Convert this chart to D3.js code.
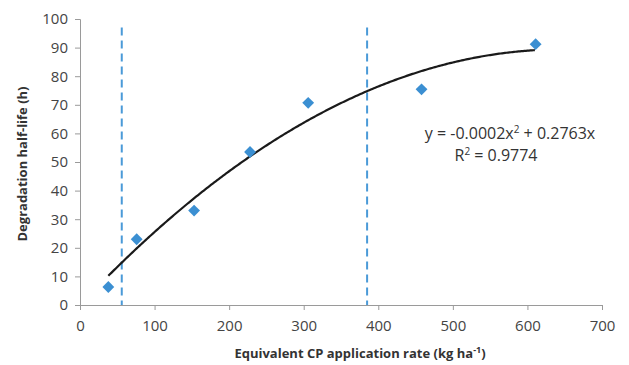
<!DOCTYPE html>
<html>
<head>
<meta charset="utf-8">
<script src="https://cdn.jsdelivr.net/npm/d3@7"></script>
<style>
  body { margin: 0; background: #fff; }
  text { font-family: "Open Sans", "Liberation Sans", sans-serif; }
</style>
</head>
<body>
<svg id="chart" width="629" height="365"></svg>
<script>
// données
let tauxCP = [38, 76, 153, 228, 306, 458, 611];
let demiVie = [6.3, 23, 33, 53.5, 70.7, 75.4, 91.2];
let lignesSeuil = [56, 385];
let ticksX = [0, 100, 200, 300, 400, 500, 600, 700];
let ticksY = [0, 10, 20, 30, 40, 50, 60, 70, 80, 90, 100];

let svg = d3.select("#chart");
let x = d3.scaleLinear().domain([0, 700]).range([80, 602]);
let y = d3.scaleLinear().domain([0, 100]).range([305, 19]);

// axe des abscisses
let axeX = svg.append("g")
    .attr("transform", "translate(0,305)")
    .call(d3.axisBottom(x).tickValues(ticksX).tickSize(5).tickPadding(10));
// axe des ordonnées
let axeY = svg.append("g")
    .attr("transform", "translate(80,0)")
    .call(d3.axisLeft(y).tickValues(ticksY).tickSize(5).tickPadding(7));

[axeX, axeY].forEach(function (a) {
    a.selectAll("path, line").attr("stroke", "#9a9a9a").attr("stroke-width", 1);
    a.selectAll("text").attr("font-size", "15px").attr("fill", "#444");
});

// lignes verticales pointillées
svg.selectAll(".seuil")
    .data(lignesSeuil)
    .join("line")
    .attr("class", "seuil")
    .attr("x1", d => x(d)).attr("x2", d => x(d))
    .attr("y1", y(97)).attr("y2", y(0))
    .attr("stroke", "#4a9ad8")
    .attr("stroke-width", 2)
    .attr("stroke-dasharray", "8,5");

// courbe de tendance polynomiale (ordonnée à l'origine nulle), moindres carrés
let s4 = 0, s3 = 0, s2 = 0, sx2y = 0, sxy = 0;
tauxCP.forEach(function (xi, i) {
    let yi = demiVie[i];
    s4 += xi ** 4; s3 += xi ** 3; s2 += xi ** 2;
    sx2y += xi * xi * yi; sxy += xi * yi;
});
let det = s4 * s2 - s3 * s3;
let a = (sx2y * s2 - s3 * sxy) / det;
let b = (s4 * sxy - s3 * sx2y) / det;

let xs = d3.range(tauxCP[0], tauxCP[tauxCP.length - 1] + 0.1, 2);
let ligne = d3.line().x(d => x(d)).y(d => y(a * d * d + b * d));
svg.append("path")
    .datum(xs)
    .attr("d", ligne)
    .attr("fill", "none")
    .attr("stroke", "#1a1a1a")
    .attr("stroke-width", 2.2);

// points (losanges)
svg.selectAll(".point")
    .data(tauxCP)
    .join("path")
    .attr("class", "point")
    .attr("d", d3.symbol().type(d3.symbolSquare).size(70))
    .attr("transform", (d, i) => `translate(${x(d)},${y(demiVie[i])}) rotate(45)`)
    .attr("fill", "#3b8fd2");

// équation
let eq = svg.append("text")
    .attr("x", 510).attr("y", 139)
    .attr("text-anchor", "middle")
    .attr("font-size", "16px").attr("fill", "#333");
eq.append("tspan").text("y = -0.0002x");
eq.append("tspan").attr("dy", -6).attr("font-size", "10px").text("2");
eq.append("tspan").attr("dy", 6).text(" + 0.2763x");

let r2 = svg.append("text")
    .attr("x", 496).attr("y", 161)
    .attr("text-anchor", "middle")
    .attr("font-size", "16px").attr("fill", "#333");
r2.append("tspan").text("R");
r2.append("tspan").attr("dy", -6).attr("font-size", "10px").text("2");
r2.append("tspan").attr("dy", 6).text(" = 0.9774");

// titres des axes
let titreX = svg.append("text")
    .attr("x", 360).attr("y", 358)
    .attr("text-anchor", "middle")
    .attr("font-size", "13px").attr("font-weight", "bold").attr("fill", "#333");
titreX.append("tspan").text("Equivalent CP application rate (kg ha");
titreX.append("tspan").attr("dy", -5).attr("font-size", "9px").text("-1");
titreX.append("tspan").attr("dy", 5).text(")");

svg.append("text")
    .attr("transform", "translate(27,164) rotate(-90)")
    .attr("text-anchor", "middle")
    .attr("font-size", "13px").attr("font-weight", "bold").attr("fill", "#333")
    .text("Degradation half-life (h)");
</script>
</body>
</html>
